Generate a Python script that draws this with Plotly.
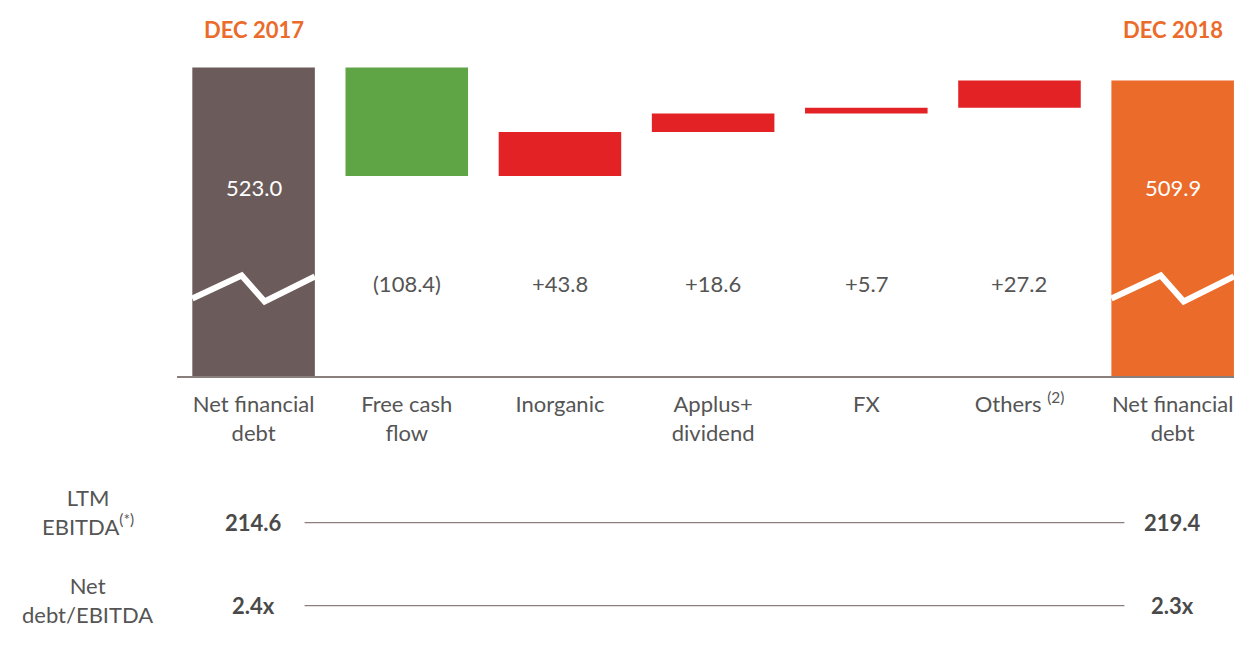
import plotly.graph_objects as go

# data
categories = ["Net financial<br>debt", "Free cash<br>flow", "Inorganic", "Applus+<br>dividend",
              "FX", "Others <sup>(2)</sup>", "Net financial<br>debt"]
opening_debt = 523.0
closing_debt = 509.9
movements = [-108.4, 43.8, 18.6, 5.7, 27.2]
movement_labels = ["(108.4)", "+43.8", "+18.6", "+5.7", "+27.2"]
period_labels = ["DEC 2017", "DEC 2018"]
ebitda_labels = ["214.6", "219.4"]
leverage_labels = ["2.4x", "2.3x"]

BROWN = "#6b5b5a"
ORANGE = "#ea6b2a"
GREEN = "#5fa445"
RED = "#e22224"
GREY = "#555555"
DARK = "#4a4a4a"
LINE = "#8a7f7d"
FONT = "Lato"
FS = 22

# waterfall bases from running total
bases, heights, colors = [], [], []
running = opening_debt
for m in movements:
    new = running + m
    bases.append(min(running, new))
    heights.append(abs(m))
    colors.append(GREEN if m < 0 else RED)
    running = new

xpos = list(range(len(categories)))
mid = xpos[1:-1]

fig = go.Figure()
fig.add_trace(go.Bar(x=[xpos[0]], y=[opening_debt], marker_color=BROWN, width=0.8,
                     marker_line_width=0))
fig.add_trace(go.Bar(x=mid, y=heights, base=bases, marker_color=colors, width=0.8,
                     marker_line_width=0))
fig.add_trace(go.Bar(x=[xpos[-1]], y=[closing_debt], marker_color=ORANGE, width=0.8,
                     marker_line_width=0))

# axis break zigzag on the two total bars
zig_dx = [-0.4, -0.078, 0.072, 0.4]
zig_y = [292, 315, 289, 314]
for xc in (xpos[0], xpos[-1]):
    path = "M " + " L ".join(f"{xc + dx},{y}" for dx, y in zip(zig_dx, zig_y))
    fig.add_shape(type="path", path=path, xref="x", yref="y",
                  line=dict(color="white", width=6))

# value labels
fig.add_annotation(x=xpos[0], y=403, text=f"{opening_debt:.1f}", showarrow=False,
                   font=dict(color="white", size=FS, family=FONT))
fig.add_annotation(x=xpos[-1], y=403, text=f"{closing_debt:.1f}", showarrow=False,
                   font=dict(color="white", size=FS, family=FONT))
for x, t in zip(mid, movement_labels):
    fig.add_annotation(x=x, y=307, text=t, showarrow=False,
                       font=dict(color=GREY, size=FS, family=FONT))

# period headers
for x, t in zip((xpos[0], xpos[-1]), period_labels):
    fig.add_annotation(x=x, y=0.972, yref="paper", yanchor="middle", text=f"<b>{t}</b>",
                       showarrow=False, font=dict(color=ORANGE, size=FS, family=FONT))

# bottom table
rows = [("LTM<br>EBITDA<sup>(*)</sup>", ebitda_labels, -0.412, -0.381),
        ("Net<br>debt/EBITDA", leverage_labels, -0.645, -0.629)]
for label, vals, yp, yl in rows:
    fig.add_annotation(x=-0.084, xref="paper", xanchor="center", y=yl, yref="paper",
                       yanchor="middle", text=label, showarrow=False, align="center",
                       font=dict(color=GREY, size=FS, family=FONT))
    for x, v in zip((xpos[0], xpos[-1]), vals):
        fig.add_annotation(x=x, y=yp, yref="paper", yanchor="middle", text=f"<b>{v}</b>",
                           showarrow=False, font=dict(color=DARK, size=FS, family=FONT))
    fig.add_shape(type="line", xref="x", yref="paper", x0=0.333, x1=5.685, y0=yp, y1=yp,
                  line=dict(color=LINE, width=1.2))

fig.update_layout(
    width=1242, height=646,
    margin=dict(l=169, r=13, t=12, b=278),
    paper_bgcolor="white", plot_bgcolor="white",
    showlegend=False, bargap=0.2,
    font=dict(family=FONT, color=GREY, size=FS),
)
fig.update_xaxes(range=[-0.5, 6.42], tickvals=xpos, ticktext=categories, showgrid=False,
                 zeroline=False, showline=True, linecolor=LINE, linewidth=2,
                 ticks="", layer="below traces", ticklabelstandoff=8,
                 tickfont=dict(size=FS, color=GREY, family=FONT))
fig.update_yaxes(range=[214.5, 570.5], visible=False, showgrid=False)

fig.write_html("out.html")
